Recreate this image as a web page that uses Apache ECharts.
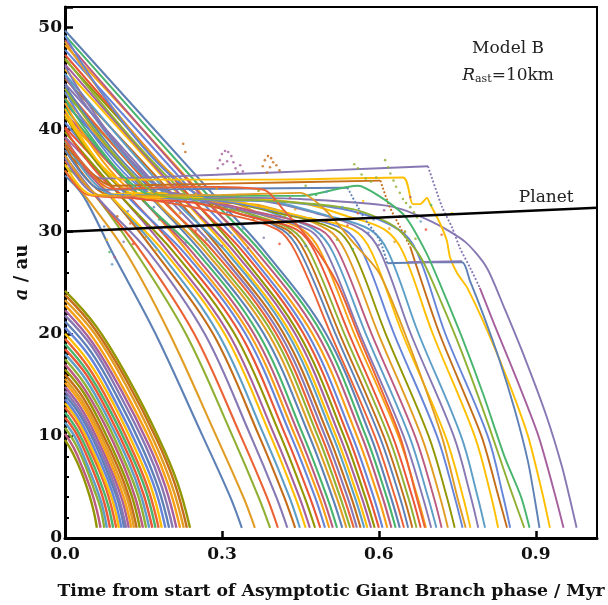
<!DOCTYPE html>
<html><head><meta charset="utf-8">
<script src="https://cdn.jsdelivr.net/npm/echarts@6/dist/echarts.min.js"></script>
<style>html,body{margin:0;padding:0;background:#fff}#c{width:608px;height:605px}</style>
</head><body><div id="c"></div><script>
// ---------- DATA (time / Myr, semimajor axis / au) ----------
const xTickValues = [0, 0.3, 0.6, 0.9];
const yTickValues = [0, 10, 20, 30, 40, 50];
const planetLine = [[0, 30.0], [1.017, 32.35]];

const innerTracks = [
[[0,9.6],[0.015,8.3],[0.031,6.5],[0.046,4.3],[0.055,2.6],[0.061,1]],
[[0,10.2],[0.017,8.8],[0.034,6.8],[0.051,4.5],[0.061,2.7],[0.068,1]],
[[0,10.8],[0.019,9.3],[0.038,7.2],[0.056,4.7],[0.068,2.9],[0.075,1]],
[[0,11.3],[0.02,9.8],[0.04,7.5],[0.06,4.9],[0.072,3.0],[0.08,1]],
[[0,11.8],[0.022,10.2],[0.043,7.9],[0.065,5.1],[0.077,3.1],[0.086,1]],
[[0,12.3],[0.023,10.6],[0.046,8.2],[0.069,5.3],[0.083,3.1],[0.092,1]],
[[0,12.8],[0.025,11.0],[0.049,8.5],[0.074,5.5],[0.088,3.2],[0.098,1]],
[[0,13.2],[0.026,11.4],[0.052,8.7],[0.077,5.6],[0.093,3.3],[0.103,1]],
[[0,13.6],[0.027,11.7],[0.054,9.0],[0.081,5.8],[0.097,3.4],[0.108,1]],
[[0,14.0],[0.028,12.1],[0.057,9.3],[0.085,5.9],[0.102,3.5],[0.113,1]],
[[0,14.4],[0.029,12.4],[0.059,9.5],[0.088,6.1],[0.105,3.5],[0.117,1]],
[[0,14.8],[0.031,12.7],[0.061,9.8],[0.092,6.2],[0.110,3.6],[0.122,1]],
[[0,15.2],[0.032,13.1],[0.064,10.0],[0.095,6.4],[0.114,3.7],[0.127,1]],
[[0,15.6],[0.033,13.4],[0.066,10.3],[0.099,6.5],[0.119,3.8],[0.132,1]],
[[0,16.0],[0.034,13.8],[0.069,10.5],[0.103,6.7],[0.123,3.9],[0.137,1]],
[[0,16.5],[0.036,14.2],[0.072,10.8],[0.107,6.9],[0.129,3.9],[0.143,1]],
[[0,17.0],[0.037,14.6],[0.075,11.2],[0.112,7.1],[0.134,4.0],[0.149,1]],
[[0,17.5],[0.039,15.0],[0.078,11.5],[0.116,7.3],[0.140,4.1],[0.155,1]],
[[0,18.0],[0.040,15.5],[0.081,11.8],[0.121,7.5],[0.145,4.2],[0.161,1]],
[[0,18.5],[0.042,15.9],[0.084,12.1],[0.125,7.7],[0.150,4.3],[0.167,1]],
[[0,19.0],[0.043,16.3],[0.087,12.4],[0.130,7.8],[0.156,4.4],[0.173,1]],
[[0,19.5],[0.045,16.7],[0.090,12.7],[0.134,8.0],[0.161,4.5],[0.179,1]],
[[0,20.0],[0.046,17.2],[0.093,13.1],[0.139,8.2],[0.167,4.6],[0.185,1]],
[[0,20.6],[0.048,17.7],[0.096,13.4],[0.144,8.4],[0.173,4.7],[0.192,1]],
[[0,21.2],[0.050,18.2],[0.100,13.8],[0.149,8.7],[0.179,4.8],[0.199,1]],
[[0,21.8],[0.052,18.7],[0.103,14.2],[0.155,8.9],[0.185,5.0],[0.206,1]],
[[0,22.3],[0.053,19.1],[0.107,14.5],[0.160,9.1],[0.192,5.0],[0.213,1]],
[[0,22.8],[0.055,19.5],[0.110,14.8],[0.165,9.3],[0.198,5.1],[0.220,1]],
[[0,23.3],[0.057,20.0],[0.114,15.2],[0.170,9.5],[0.204,5.2],[0.227,1]],
[[0,23.8],[0.058,20.4],[0.117,15.5],[0.175,9.7],[0.210,5.3],[0.233,1]],
[[0,24.2],[0.060,20.7],[0.120,15.7],[0.179,9.8],[0.215,5.4],[0.239,1]]
];

const outerTracks = [
[[0,35.5],[0.035,33.5],[0.090,28],[0.173,20],[0.263,10],[0.316,4],[0.338,1]],
[[0,35.97],[0.043,33.2],[0.116,28],[0.200,20],[0.289,10],[0.341,4],[0.363,1]],
[[0,36.45],[0.052,33.9],[0.135,28],[0.231,20],[0.320,10],[0.370,4],[0.392,1]],
[[0,36.92],[0.060,33.4],[0.146,28],[0.247,20],[0.336,10],[0.386,4],[0.407,1]],
[[0,37.39],[0.068,33.0],[0.160,28],[0.267,20],[0.355,10],[0.404,4],[0.425,1]],
[[0,37.87],[0.077,34.0],[0.172,28],[0.283,20],[0.371,10],[0.419,4],[0.440,1]],
[[0,38.34],[0.085,33.6],[0.181,28],[0.293,20],[0.381,10],[0.429,4],[0.449,1]],
[[0,38.81],[0.093,33.2],[0.190,28],[0.305,20],[0.393,10],[0.440,4],[0.460,1]],
[[0,39.28],[0.101,33.8],[0.198,28],[0.313,20],[0.401,10],[0.448,4],[0.468,1]],
[[0,39.76],[0.110,33.3],[0.208,28],[0.324,20],[0.412,10],[0.458,4],[0.478,1]],
[[0,40.23],[0.118,33.7],[0.218,28],[0.335,20],[0.422,10],[0.468,4],[0.488,1]],
[[0,40.7],[0.126,33.1],[0.227,28],[0.345,20],[0.432,10],[0.478,4],[0.497,1]],
[[0,41.18],[0.135,33.9],[0.235,28],[0.353,20],[0.440,10],[0.486,4],[0.505,1]],
[[0,41.65],[0.143,33.4],[0.243,28],[0.361,20],[0.448,10],[0.493,4],[0.512,1]],
[[0,42.12],[0.151,33.0],[0.252,28],[0.370,20],[0.456,10],[0.501,4],[0.520,1]],
[[0,42.6],[0.160,33.6],[0.261,28],[0.380,20],[0.467,10],[0.511,4],[0.530,1]],
[[0,43.07],[0.168,33.3],[0.269,28],[0.389,20],[0.475,10],[0.519,4],[0.538,1]],
[[0,43.54],[0.176,33.8],[0.277,28],[0.397,20],[0.483,10],[0.526,4],[0.545,1]],
[[0,44.01],[0.184,33.2],[0.285,28],[0.404,20],[0.490,10],[0.533,4],[0.552,1]],
[[0,44.49],[0.193,33.5],[0.293,28],[0.411,20],[0.497,10],[0.540,4],[0.558,1]],
[[0,44.96],[0.201,33.9],[0.301,28],[0.418,20],[0.504,10],[0.547,4],[0.565,1]],
[[0,45.43],[0.209,33.1],[0.309,28],[0.426,20],[0.512,10],[0.554,4],[0.572,1]],
[[0,45.91],[0.218,33.6],[0.316,28],[0.432,20],[0.518,10],[0.560,4],[0.578,1]],
[[0,46.38],[0.226,33.3],[0.324,28],[0.440,20],[0.525,10],[0.567,4],[0.585,1]],
[[0,46.85],[0.234,33.7],[0.332,28],[0.447,20],[0.533,10],[0.574,4],[0.592,1]],
[[0,47.33],[0.243,33.2],[0.341,28],[0.456,20],[0.541,10],[0.582,4],[0.600,1]],
[[0,47.8],[0.251,33.5],[0.349,28],[0.464,20],[0.549,10],[0.590,4],[0.607,1]],
[[0,48.27],[0.259,33.8],[0.357,28],[0.473,20],[0.558,10],[0.599,4],[0.616,1]],
[[0,48.75],[0.268,33.1],[0.366,28],[0.482,20],[0.567,10],[0.607,4],[0.624,1]],
[[0,49.22],[0.276,33.4],[0.375,28],[0.491,20],[0.575,10],[0.615,4],[0.632,1]],
[[0,49.7],[0.284,33.6],[0.383,28],[0.499,20],[0.584,10],[0.623,4],[0.640,1]]
];

const lingerTracks = [
[[0,36.0],[0.044,33.6],[0.15,33.2],[0.30,31.8],[0.406,30.2],[0.441,28],[0.508,20],[0.592,10],[0.631,4],[0.648,1]],
[[0,44.3],[0.189,33.4],[0.30,32.6],[0.415,30.2],[0.450,28],[0.517,20],[0.601,10],[0.640,4],[0.656,1]],
[[0,38.4],[0.086,33.6],[0.20,33.8],[0.33,31.8],[0.424,30.2],[0.459,28],[0.525,20],[0.609,10],[0.648,4],[0.664,1]],
[[0,47.0],[0.237,33.4],[0.35,31.8],[0.433,30.2],[0.468,28],[0.534,20],[0.618,10],[0.656,4],[0.672,1]],
[[0,40.1],[0.116,33.5],[0.25,32.8],[0.36,31.4],[0.443,30.2],[0.478,28],[0.543,20],[0.626,10],[0.664,4],[0.680,1]],
[[0,42.6],[0.160,33.3],[0.30,33.1],[0.38,31.6],[0.454,30.2],[0.489,28],[0.553,20],[0.637,10],[0.674,4],[0.690,1]],
[[0,37.2],[0.065,33.6],[0.18,33.6],[0.33,32.2],[0.465,30.2],[0.500,28],[0.564,20],[0.647,10],[0.684,4],[0.700,1]],
[[0,45.5],[0.211,33.4],[0.33,32.9],[0.42,31.4],[0.477,30.2],[0.512,28],[0.575,20],[0.658,10],[0.694,4],[0.710,1]],
[[0,39.3],[0.102,33.5],[0.22,33.4],[0.36,32.0],[0.488,30.2],[0.523,28],[0.586,20],[0.669,10],[0.705,4],[0.720,1]],
[[0,48.6],[0.265,33.3],[0.38,32.5],[0.502,30.2],[0.537,28],[0.599,20],[0.681,10],[0.717,4],[0.732,1]],
[[0,41.4],[0.139,33.5],[0.26,33.3],[0.40,31.9],[0.517,30.2],[0.552,28],[0.613,20],[0.695,10],[0.730,4],[0.745,1]],
[[0,43.7],[0.179,33.4],[0.30,33.0],[0.44,31.6],[0.534,30.2],[0.569,28],[0.629,20],[0.711,10],[0.745,4],[0.760,1]],
[[0,36.6],[0.054,33.6],[0.16,33.8],[0.32,33.0],[0.46,31.4],[0.551,30.2],[0.586,28],[0.645,20],[0.727,10],[0.761,4],[0.775,1]],
[[0,46.2],[0.223,33.4],[0.35,33.2],[0.48,31.8],[0.568,30.2],[0.603,28],[0.661,20],[0.743,10],[0.776,4],[0.790,1]],
[[0,38.9],[0.095,33.6],[0.22,33.6],[0.38,33.1],[0.50,31.6],[0.583,30.2],[0.618,28],[0.676,20],[0.757,10],[0.789,4],[0.803,1]],
[[0,42.0],[0.149,33.4],[0.28,33.4],[0.45,32.8],[0.54,31.5],[0.611,30.2],[0.646,28],[0.703,20],[0.783,10],[0.815,4],[0.828,1]],
[[0,49.2],[0.275,33.3],[0.42,32.9],[0.55,32.0],[0.638,30.2],[0.673,28],[0.727,20],[0.808,10],[0.838,4],[0.851,1]]
];

const specialTracks = [
[[0,39.2],[0.07,35.2],[0.3,35.6],[0.5,36.0],[0.694,36.4]],
[[0.694,36.4],[0.721,32.4],[0.740,30.4],[0.755,28.4],[0.774,26.5],[0.793,24.5]],
[[0.793,24.5],[0.82,21],[0.86,16],[0.905,10],[0.938,4],[0.953,1]],
[[0,45.2],[0.205,33.8],[0.45,33.2],[0.62,32.5],[0.70,31],[0.765,29.0],[0.806,26.5],[0.84,22.5],[0.88,17.5],[0.92,12],[0.95,7],[0.969,3],[0.978,1]],
[[0,38.6],[0.09,34.5],[0.3,34.7],[0.603,35.0]],
[[0.603,35.0],[0.62,32.5],[0.64,30.5],[0.66,28.5]],
[[0.66,28.5],[0.716,20],[0.796,10],[0.829,4],[0.845,1]],
[[0,41.5],[0.11,35.1],[0.4,35.1],[0.646,35.3],[0.665,32.7],[0.679,32.7],[0.692,33.3],[0.698,32.7],[0.717,30.8],[0.730,29.1],[0.736,27.5],[0.750,25.9],[0.769,24.5],[0.81,20],[0.85,15],[0.885,10],[0.912,4.5],[0.927,1]],
[[0,38.0],[0.07,34.1],[0.3,34.2],[0.54,34.3]],
[[0.54,34.3],[0.57,31.5],[0.602,29.1],[0.616,26.9]],
[[0.616,26.9],[0.70,27.0],[0.759,27.0],[0.774,25.2],[0.80,21.8],[0.83,17.5],[0.86,12.5],[0.885,7.5],[0.899,3.5],[0.907,1]],
[[0.655,27.0],[0.759,27.1]],
[[0,43.0],[0.167,33.6],[0.45,33.5],[0.56,34.5],[0.6,33.5],[0.65,31.5],[0.69,28],[0.72,24.5],[0.76,19.5],[0.80,14],[0.84,8],[0.872,4],[0.888,1]],
[[0,37.5],[0.07,33.5],[0.3,33.6],[0.45,33.8],[0.5,32],[0.55,29],[0.6,26],[0.65,20],[0.72,10],[0.75,4],[0.766,1]],
[[0,39.0],[0.09,34.2],[0.25,34.4],[0.38,34.1],[0.42,32],[0.47,29],[0.52,25],[0.56,20],[0.64,10],[0.672,4],[0.688,1]],
[[0,44.0],[0.185,33.5],[0.40,33.0],[0.55,32.2],[0.63,30.5],[0.68,27.5],[0.72,23],[0.76,18],[0.81,11],[0.85,5],[0.878,1]]
];

const dotsPurple = [[0.292,36.2],[0.296,37.0],[0.300,37.6],[0.306,37.9],[0.312,37.8],[0.318,37.4],[0.322,36.8],[0.326,36.2],[0.330,35.8],[0.302,36.6],[0.310,36.9],[0.335,36.5],[0.340,35.9]];
const dotsBrown = [[0.378,36.4],[0.382,37.0],[0.388,37.4],[0.394,37.2],[0.398,36.8],[0.404,36.5],[0.410,36.0],[0.392,36.3],[0.386,35.8],[0.226,38.6],[0.230,37.8]];
const dotsGreen = [[0.612,37.0],[0.618,36.3],[0.622,35.7],[0.628,35.0],[0.633,34.4],[0.640,33.8],[0.646,33.2],[0.652,32.8],[0.660,32.4],[0.667,31.9],[0.673,31.4],[0.553,36.6],[0.560,36.2],[0.567,35.6],[0.575,35.2],[0.585,34.9],[0.595,35.3]];
const dotsMixed = [[0.075,30.5],[0.08,29.2],[0.085,28.0],[0.09,26.8],[0.095,27.5],[0.1,31.5],[0.105,30.2],[0.112,29.0],[0.12,32.0],[0.125,30.8],[0.13,28.8],[0.14,31.6],[0.15,33.0],[0.155,29.5],[0.16,30.6],[0.17,32.4],[0.175,28.2],[0.18,31.2],[0.19,29.8],[0.2,32.8],[0.21,30.4],[0.22,31.8],[0.23,28.9],[0.24,33.2],[0.25,30.1],[0.26,31.4],[0.27,29.2],[0.28,32.6],[0.29,30.8],[0.3,28.6],[0.31,31.9],[0.32,29.7],[0.33,33.4],[0.34,30.3],[0.35,28.4],[0.36,31.2],[0.37,32.5],[0.38,29.4],[0.39,30.9],[0.4,33.1],[0.41,28.8],[0.42,31.5],[0.43,29.9],[0.44,32.2],[0.45,30.5],[0.46,28.6],[0.47,31.3],[0.48,33.6],[0.49,29.6],[0.5,31.0]];
const dotsMixed2 = [[0.52,29.2],[0.53,32.4],[0.54,30.6],[0.55,28.3],[0.56,31.8],[0.57,33.0],[0.58,29.9],[0.59,31.2],[0.60,28.7],[0.61,32.1],[0.62,30.3],[0.63,29.0],[0.64,31.5],[0.65,30.0],[0.66,33.4],[0.67,29.3],[0.68,31.0],[0.69,30.2],[0.70,32.6],[0.72,29.7],[0.74,31.8],[0.11,33.6],[0.13,34.3],[0.17,33.9],[0.21,34.6],[0.25,33.7],[0.29,34.2],[0.33,32.2],[0.37,34.0],[0.43,33.3],[0.46,34.5],[0.5,33.9]];

// ---------- STYLE ----------
const palette = ['#5E81B5','#E19C24','#8FB032','#EB6235','#8778B3','#C56E1A','#5D9EC7','#FFBF00','#A5609D','#929600','#E95536','#6685D9','#F89F13','#BC5B80','#47B56D'];
const lingerColors = [3,0,5,2,10,12,4,6,13,1,9,11,7,4,6,7,11];
const specialColors = ['#8778B3','#8778B3','#A5609D','#8778B3','#C56E1A','#C56E1A','#C56E1A','#FFBF00','#5E81B5','#5E81B5','#5E81B5','#8778B3','#47B56D','#E19C24','#EB6235','#8FB032'];
const specialDotted = [false,true,false,false,false,true,false,false,false,true,false,false,false,false,false,false];
const SERIF = '"DejaVu Serif", "Liberation Serif", serif';

const series = [];
function addLine(pts, color, width, dotted, smooth, z) {
  series.push({type:'line', data: pts, showSymbol:false, symbol:'none', silent:true,
    smooth: smooth, z: z || 2, animation:false,
    lineStyle:{color: color, width: width, type: dotted ? 'dotted' : 'solid'}});
}
innerTracks.forEach((p,i)=> addLine(p, palette[(i*4+9) % 15], 2.4, false, 0.4));
outerTracks.forEach((p,i)=> addLine(p, palette[i % 15], 2.1, false, 0.35));
lingerTracks.forEach((p,i)=> addLine(p, palette[lingerColors[i]], 1.9, false, 0.35));
specialTracks.forEach((p,i)=> addLine(p, specialColors[i], 1.9, specialDotted[i], 0.25, 3));
function addDots(pts, colorFn) {
  series.push({type:'scatter', data: pts, symbolSize: 2.6, silent:true, animation:false, z:3,
    itemStyle:{color: colorFn}});
}
addDots(dotsPurple, '#A5609D');
addDots(dotsBrown, '#C56E1A');
addDots(dotsGreen, '#8FB032');
addDots(dotsMixed, p => palette[(p.dataIndex*7) % 15]);
addDots(dotsMixed2, p => palette[(p.dataIndex*4 + 2) % 15]);
series.push({type:'line', data: planetLine, showSymbol:false, symbol:'none', silent:true, z:10, animation:false,
  lineStyle:{color:'#000', width:2.5}});

const chart = echarts.init(document.getElementById('c'));
chart.setOption({
  animation:false,
  backgroundColor:'#fff',
  grid:{left:65, right:11, top:7, bottom:67, show:true, borderColor:'#000', borderWidth:2, backgroundColor:'transparent',
    containLabel:false, outerBoundsMode:'none'},
  xAxis:{type:'value', min:0, max:1.017, interval:0.3,
    name:'Time from start of Asymptotic Giant Branch phase / Myr', nameLocation:'middle', nameGap:45,
    nameMoveOverlap:false,
    nameTextStyle:{fontFamily:SERIF, fontWeight:'bold', fontSize:17.3, color:'#111'},
    axisLine:{onZero:false, lineStyle:{color:'#000', width:3}},
    axisTick:{inside:true, length:7, lineStyle:{color:'#000', width:2.5}},
    axisLabel:{showMaxLabel:false, margin:8, fontFamily:SERIF, fontWeight:'bold', fontSize:17, color:'#111',
      formatter: v => xTickValues.indexOf(Math.round(v*10)/10) >= 0 ? v.toFixed(1) : ''},
    splitLine:{show:false}},
  yAxis:{type:'value', min:0, max:52, interval:10,
    name:'{i|a} / au', nameLocation:'middle', nameGap:34, nameRotate:90,
    nameMoveOverlap:false,
    nameTextStyle:{fontFamily:SERIF, fontWeight:'bold', fontSize:18, color:'#111',
      rich:{i:{fontFamily:SERIF, fontWeight:'bold', fontStyle:'italic', fontSize:18, color:'#111'}}},
    axisLine:{onZero:false, lineStyle:{color:'#000', width:3}},
    axisTick:{inside:true, length:8, lineStyle:{color:'#000', width:2.5}},
    minorTick:{show:true, splitNumber:5, length:4, lineStyle:{color:'#000', width:2}},
    axisLabel:{showMaxLabel:false, margin:3, fontFamily:SERIF, fontWeight:'bold', fontSize:17, color:'#111',
      formatter: v => yTickValues.indexOf(v) >= 0 ? String(v) : ''},
    splitLine:{show:false}},
  series: series
});

function px(t, a){ return chart.convertToPixel({xAxisIndex:0, yAxisIndex:0}, [t, a]); }
const pModel = px(0.847, 47.9), pR = px(0.847, 45.3), pPlanet = px(0.92, 33.3);
chart.setOption({graphic:[
  {type:'text', x:pModel[0], y:pModel[1], z:20, style:{text:'Model B', font:'17px '+SERIF, fill:'#222', align:'center', verticalAlign:'middle'}},
  {type:'text', x:pR[0], y:pR[1], z:20, style:{text:'{i|R}{s|ast}{n|=10km}', align:'center', verticalAlign:'middle',
     rich:{i:{fontFamily:SERIF, fontStyle:'italic', fontSize:17, fill:'#222'}, s:{fontFamily:SERIF, fontSize:11, fill:'#222', padding:[8,0,0,0]}, n:{fontFamily:SERIF, fontSize:17, fill:'#222'}}}},
  {type:'text', x:pPlanet[0], y:pPlanet[1], z:20, style:{text:'Planet', font:'17px '+SERIF, fill:'#222', align:'center', verticalAlign:'middle'}}
]});
</script></body></html>
